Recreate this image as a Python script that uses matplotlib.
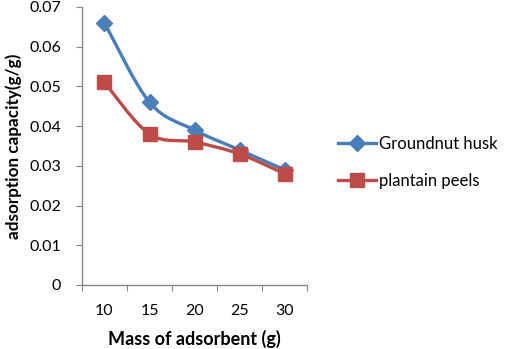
import matplotlib
matplotlib.use("Agg")
import matplotlib.pyplot as plt
from matplotlib.path import Path
from matplotlib.patches import PathPatch
from matplotlib.lines import Line2D
import numpy as np

categories = ["10", "15", "20", "25", "30"]
groundnut_husk = [0.066, 0.046, 0.039, 0.034, 0.029]
plantain_peels = [0.051, 0.038, 0.036, 0.033, 0.028]
y_ticks = [0, 0.01, 0.02, 0.03, 0.04, 0.05, 0.06, 0.07]
y_tick_labels = ["0", "0.01", "0.02", "0.03", "0.04", "0.05", "0.06", "0.07"]

plt.rcParams['font.family'] = ['Lato', 'DejaVu Sans']

fig = plt.figure(figsize=(5.06, 3.49), dpi=100)
ax = fig.add_axes([0.162, 0.1834, 0.445, 0.7966])

blue = "#4A7EBB"
red = "#BE4B48"

def smooth_path(xs, ys):
    pts = np.column_stack([xs, ys]).astype(float)
    n = len(pts)
    verts = [pts[0]]
    codes = [Path.MOVETO]
    for i in range(n - 1):
        p0 = pts[i - 1] if i > 0 else pts[i]
        p1 = pts[i]
        p2 = pts[i + 1]
        p3 = pts[i + 2] if i + 2 < n else pts[i + 1]
        c1 = p1 + (p2 - p0) / 6.0
        c2 = p2 - (p3 - p1) / 6.0
        verts += [c1, c2, p2]
        codes += [Path.CURVE4] * 3
    return Path(verts, codes)

x = np.arange(len(categories))
for vals, color, marker, ms in [(groundnut_husk, blue, 'D', 8.5),
                                (plantain_peels, red, 's', 9.5)]:
    patch = PathPatch(smooth_path(x, vals), facecolor='none', edgecolor=color,
                      lw=2.4, capstyle='round', joinstyle='round', zorder=2)
    ax.add_patch(patch)
    ax.plot(x, vals, linestyle='none', marker=marker, ms=ms, color=color,
            markeredgecolor=color, zorder=3)

ax.set_xlim(-0.5, len(categories) - 0.5)
ax.set_ylim(0, 0.07)
ax.set_yticks(y_ticks)
ax.set_yticklabels(y_tick_labels)
ax.set_xticks(np.arange(len(categories) + 1) - 0.5)
ax.set_xticklabels([])
ax.set_xticks(x, minor=True)
ax.set_xticklabels(categories, minor=True)
ax.tick_params(axis='x', which='major', length=4, color='#868686', direction='out')
ax.tick_params(axis='x', which='minor', length=0, pad=14, labelsize=11.5)
ax.tick_params(axis='y', length=4, color='#868686', direction='out', labelsize=11.5, pad=11)

for s in ['top', 'right']:
    ax.spines[s].set_visible(False)
for s in ['left', 'bottom']:
    ax.spines[s].set_color('#868686')
    ax.spines[s].set_linewidth(1.0)

ax.set_xlabel("Mass of adsorbent (g)", fontsize=13, fontweight='bold', labelpad=8)
ax.set_ylabel("adsorption capacity(g/g)", fontsize=12.3, fontweight='bold', labelpad=5)

handles = [Line2D([], [], color=blue, lw=2.4, marker='D', ms=8.5),
           Line2D([], [], color=red, lw=2.4, marker='s', ms=9.5)]
fig.legend(handles, ["Groundnut husk", "plantain peels"], loc='center left',
           bbox_to_anchor=(0.638, 0.535), frameon=False, fontsize=12,
           handlelength=2.3, handletextpad=0.2, labelspacing=1.25)

fig.savefig("out.png", dpi=100)
